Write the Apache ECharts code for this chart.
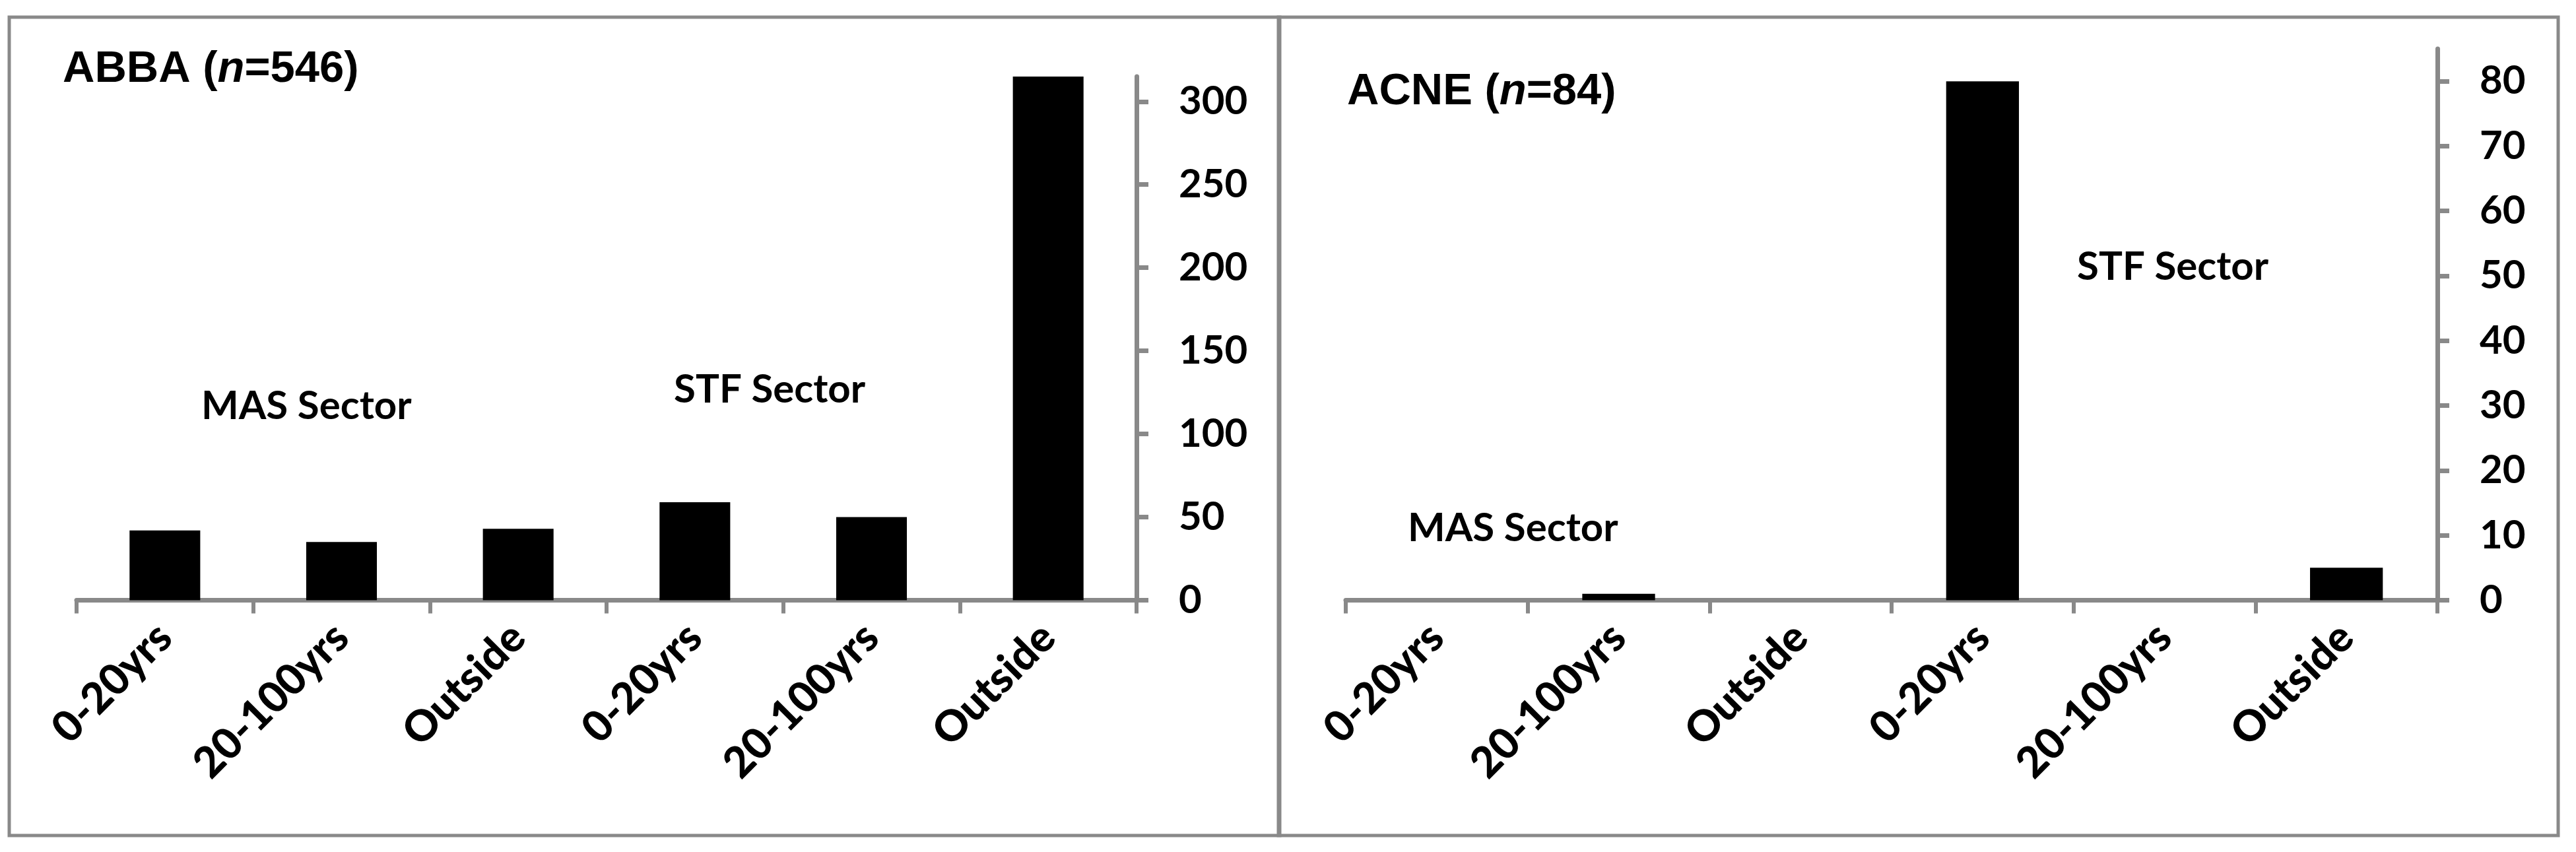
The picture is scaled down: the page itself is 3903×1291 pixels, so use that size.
<!DOCTYPE html>
<html>
<head>
<meta charset="utf-8">
<script src="https://cdn.jsdelivr.net/npm/echarts@6/dist/echarts.min.js"></script>
<style>
html, body { margin: 0; padding: 0; background: #ffffff; }
#chart { width: 3903px; height: 1291px; }
</style>
</head>
<body>
<div id="chart"></div>
<script>
// ---- data ----
const categories = ['0-20yrs', '20-100yrs', 'Outside', '0-20yrs', '20-100yrs', 'Outside'];
const abbaValues = [42, 35, 43, 59, 50, 315];
const acneValues = [0, 1, 0, 80, 0, 5];
const abbaTicks = [0, 50, 100, 150, 200, 250, 300];
const acneTicks = [0, 10, 20, 30, 40, 50, 60, 70, 80];
const abbaMax = 315;
const acneMax = 85;
const abbaTitle = ['ABBA (', 'n', '=546)'];
const acneTitle = ['ACNE (', 'n', '=84)'];
const sectorNames = ['MAS Sector', 'STF Sector'];

// ---- styling ----
const GRAY = '#898989';
const LABEL_FONT = 'Lato, "Open Sans", sans-serif';
const TITLE_FONT = '"Liberation Sans", Arial, sans-serif';

function xAxisFor(gridIndex) {
  return {
    type: 'category',
    gridIndex: gridIndex,
    data: categories,
    boundaryGap: true,
    axisLine: { show: true, lineStyle: { color: GRAY, width: 7 } },
    axisTick: { show: true, alignWithLabel: false, length: 20, inside: false, lineStyle: { color: GRAY, width: 6 } },
    axisLabel: {
      interval: 0, rotate: 45, margin: 46,
      fontFamily: LABEL_FONT, fontWeight: 900, fontSize: 65, color: '#000'
    },
    splitLine: { show: false }
  };
}

function yAxisFor(gridIndex, max, ticks) {
  return {
    type: 'value',
    gridIndex: gridIndex,
    position: 'right',
    min: 0,
    max: max,
    interval: ticks[1] - ticks[0],
    axisLine: { show: true, lineStyle: { color: GRAY, width: 7 } },
    axisTick: { show: true, inside: false, length: 18, customValues: ticks, lineStyle: { color: GRAY, width: 7 } },
    axisLabel: {
      margin: 64, customValues: ticks,
      formatter: function (v) { return ticks.indexOf(v) >= 0 ? String(v) : ''; },
      fontFamily: LABEL_FONT, fontWeight: 'bold', fontSize: 60, color: '#000'
    },
    splitLine: { show: false }
  };
}

function richTitle(parts, x, y) {
  return {
    type: 'text', x: x, y: y, z: 10,
    style: {
      text: '{a|' + parts[0] + '}{i|' + parts[1] + '}{a|' + parts[2] + '}',
      align: 'left', verticalAlign: 'middle',
      rich: {
        a: { fontFamily: TITLE_FONT, fontWeight: 'bold', fontSize: 67, fill: '#000' },
        i: { fontFamily: TITLE_FONT, fontWeight: 'bold', fontStyle: 'italic', fontSize: 67, fill: '#000' }
      }
    }
  };
}

function note(text, x, y) {
  return {
    type: 'text', x: x, y: y, z: 10,
    style: {
      text: text, align: 'left', verticalAlign: 'middle',
      fontFamily: LABEL_FONT, fontWeight: 'bold', fontSize: 60, fill: '#000'
    }
  };
}

const chart = echarts.init(document.getElementById('chart'), null, { renderer: 'canvas' });
chart.setOption({
  backgroundColor: '#ffffff',
  animation: false,
  grid: [
    { left: 116, top: 116, width: 1606, height: 793.5, containLabel: false },
    { left: 2039, top: 74, width: 1654, height: 835.5, containLabel: false }
  ],
  xAxis: [xAxisFor(0), xAxisFor(1)],
  yAxis: [yAxisFor(0, abbaMax, abbaTicks), yAxisFor(1, acneMax, acneTicks)],
  series: [
    { type: 'bar', xAxisIndex: 0, yAxisIndex: 0, data: abbaValues, barWidth: '40%', itemStyle: { color: '#000' } },
    { type: 'bar', xAxisIndex: 1, yAxisIndex: 1, data: acneValues, barWidth: '40%', itemStyle: { color: '#000' } }
  ],
  graphic: [
    { type: 'rect', z: 0, shape: { x: 14, y: 26, width: 1925, height: 1240 }, style: { fill: 'none', stroke: GRAY, lineWidth: 5 } },
    { type: 'rect', z: 0, shape: { x: 1937, y: 26, width: 1939, height: 1240 }, style: { fill: 'none', stroke: GRAY, lineWidth: 5 } },
    richTitle(abbaTitle, 95, 106),
    richTitle(acneTitle, 2041, 140),
    note(sectorNames[0], 305, 616),
    note(sectorNames[1], 1021, 591),
    note(sectorNames[0], 2133, 801),
    note(sectorNames[1], 3147, 405)
  ]
});
</script>
</body>
</html>
